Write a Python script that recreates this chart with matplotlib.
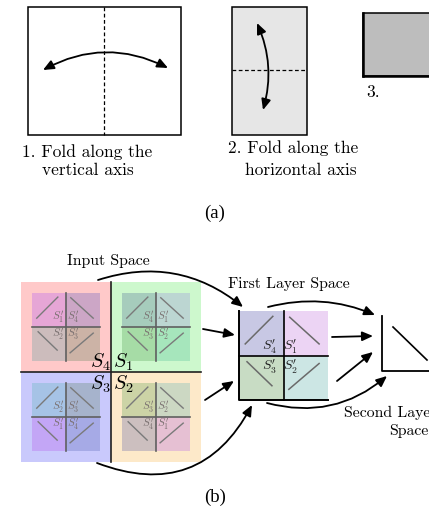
import matplotlib.pyplot as plt
from matplotlib.patches import Rectangle, FancyArrowPatch

plt.rcParams["mathtext.fontset"] = "cm"
SERIF = ["cmr10", "DejaVu Serif"]

# ---- panel (a): folding steps ----
fold_boxes = [(28, 7, 153, 128, "white"), (232, 7, 75, 128, "#e6e6e6"), (363, 13, 80, 63, "#bdbdbd")]
fold_captions = ["1. Fold along the", "vertical axis", "2. Fold along the", "horizontal axis", "3."]
caption_xy = [(22, 152), (42, 170), (228, 148), (245, 170), (366, 92)]

# ---- panel (b): quadrant layout ----
quad_origin = (21, 282)
quad_size = 90
quad_colors = ["#ffc9c9", "#cdf8cd", "#c9c9fc", "#fde9c9"]  # TL, TR, BL, BR
inner_colors = [
    ["#e6a6d6", "#cca6c6", "#ccbcbc", "#ccb3a6"],
    ["#a6ccbc", "#bcd6d2", "#a6dca6", "#a6e6bc"],
    ["#a6c3e6", "#a6b3cc", "#c3a6f6", "#a6aae6"],
    ["#ccd3a6", "#ccd8c3", "#ccbfbf", "#e6c0d3"],
]
inner_labels = [
    ["1", "4", "2", "3"],
    ["4", "1", "3", "2"],
    ["2", "3", "1", "4"],
    ["3", "2", "4", "1"],
]
big_labels = ["4", "1", "3", "2"]
big_label_xy = [(100, 362), (123, 362), (100, 384), (123, 384)]

first_origin = (239, 311)
first_size = 89
first_colors = ["#c8c8e4", "#ecd4f4", "#c8dcc4", "#cce6e4"]
first_labels = ["4", "1", "3", "2"]

# diagonal strokes inside each sub-square (fractions of the square)
diag = [
    [(0.07, 0.37), (0.38, 0.06)],
    [(0.57, 0.07), (0.90, 0.37)],
    [(0.09, 0.57), (0.37, 0.84)],
    [(0.56, 0.88), (0.90, 0.59)],
]

# arrows: start, end, curvature
arrows_in = [((98, 280), (243, 307), -0.27), ((203, 329), (235, 335), 0.0),
             ((205, 400), (234, 381), 0.0), ((97, 463), (252, 405), 0.44)]
arrows_out = [((268, 307), (375, 315), -0.17), ((332, 337), (373, 336), 0.0),
              ((337, 381), (373, 352), 0.0), ((267, 403), (387, 376), 0.26)]

fig = plt.figure(figsize=(4.29, 5.12), dpi=100)
ax = fig.add_axes([0, 0, 1, 1])
ax.set_xlim(0, 429)
ax.set_ylim(512, 0)
ax.axis("off")


def arrow(p0, p1, rad, style="-|>"):
    ax.add_patch(FancyArrowPatch(p0, p1, connectionstyle=f"arc3,rad={rad}",
                                 arrowstyle=style + ",head_length=0.8,head_width=0.35",
                                 mutation_scale=8, lw=1.3, color="black", shrinkA=0, shrinkB=0))


def sprime(n):
    return rf"$S^{{\prime}}_{{{n}}}$"


# panel (a)
for (x, y, w, h, c) in fold_boxes:
    ax.add_patch(Rectangle((x, y), w, h, facecolor=c, edgecolor="black", lw=1.1))
ax.plot([363, 363], [13, 76], color="black", lw=1.8)
ax.plot([363, 429], [76, 76], color="black", lw=1.8)
ax.plot([103.5, 103.5], [7, 135], color="black", lw=0.9, ls=(0, (3, 2)))
ax.plot([232, 307], [70, 70], color="black", lw=0.9, ls=(0, (3, 2)))
arrow((43, 70), (168, 68), -0.26, "<|-|>")
arrow((257, 23), (263, 110), -0.18, "<|-|>")
for txt, (x, y) in zip(fold_captions, caption_xy):
    ax.text(x, y, txt, family=SERIF, fontsize=12.5, va="center", ha="left")
ax.text(215, 213, "(a)", family="Liberation Serif", fontsize=13.5, ha="center", va="center")

# panel (b): input space
ox, oy = quad_origin
for q in range(4):
    qx = ox + (q % 2) * quad_size
    qy = oy + (q // 2) * quad_size
    ax.add_patch(Rectangle((qx, qy), quad_size, quad_size, facecolor=quad_colors[q], lw=0))
    ix, iy, s = qx + 11, qy + 11, 68
    for k in range(4):
        sx = ix + (k % 2) * s / 2
        sy = iy + (k // 2) * s / 2
        ax.add_patch(Rectangle((sx, sy), s / 2, s / 2, facecolor=inner_colors[q][k], lw=0))
        (a0, b0), (a1, b1) = diag[k]
        ax.plot([ix + a0 * s, ix + a1 * s], [iy + b0 * s, iy + b1 * s], color="#7a7a7a", lw=1.0)
        lx = ix + (0.38 if k % 2 == 0 else 0.61) * s
        ly = iy + (0.36 if k // 2 == 0 else 0.60) * s
        ax.text(lx, ly, sprime(inner_labels[q][k]), fontsize=8, color="#7a7070", ha="center", va="center")
    ax.plot([ix + s / 2, ix + s / 2], [iy, iy + s], color="#606060", lw=1.2)
    ax.plot([ix, ix + s], [iy + s / 2, iy + s / 2], color="#606060", lw=1.2)
ax.plot([ox + quad_size] * 2, [oy, oy + 2 * quad_size], color="#202020", lw=1.2)
ax.plot([ox, ox + 2 * quad_size], [oy + quad_size] * 2, color="#202020", lw=1.2)
for lab, (x, y) in zip(big_labels, big_label_xy):
    ax.text(x, y, rf"$S_{lab}$", fontsize=14.5, ha="center", va="center")
ax.text(108, 261, "Input Space", family=SERIF, fontsize=11.3, ha="center", va="center")

# first layer space
fx, fy = first_origin
h = first_size / 2
for k in range(4):
    sx = fx + (k % 2) * h
    sy = fy + (k // 2) * h
    ax.add_patch(Rectangle((sx, sy), h, h, facecolor=first_colors[k], lw=0))
    (a0, b0), (a1, b1) = diag[k]
    ax.plot([fx + a0 * first_size, fx + a1 * first_size], [fy + b0 * first_size, fy + b1 * first_size],
            color="#6a6a6a", lw=1.1)
    lx = fx + (0.34 if k % 2 == 0 else 0.58) * first_size
    ly = fy + (0.40 if k // 2 == 0 else 0.63) * first_size
    ax.text(lx, ly, sprime(first_labels[k]), fontsize=10, color="#202020", ha="center", va="center")
ax.plot([fx, fx, fx + first_size], [fy, fy + first_size, fy + first_size], color="black", lw=1.4)
ax.plot([fx + h, fx + h], [fy, fy + first_size], color="black", lw=1.2)
ax.plot([fx, fx + first_size], [fy + h, fy + h], color="black", lw=1.2)
ax.text(289, 284, "First Layer Space", family=SERIF, fontsize=11.3, ha="center", va="center")

# second layer space
ax.plot([382, 382, 432], [316, 371, 371], color="black", lw=1.3)
ax.plot([393, 427], [327, 360], color="black", lw=1.2)
ax.text(436, 413, "Second Layer", family=SERIF, fontsize=11.3, ha="right", va="center")
ax.text(429, 431, "Space", family=SERIF, fontsize=11.3, ha="right", va="center")

for p0, p1, r in arrows_in + arrows_out:
    arrow(p0, p1, r)

ax.text(215, 497, "(b)", family="Liberation Serif", fontsize=13.5, ha="center", va="center")

fig.savefig("out.png", dpi=100)
